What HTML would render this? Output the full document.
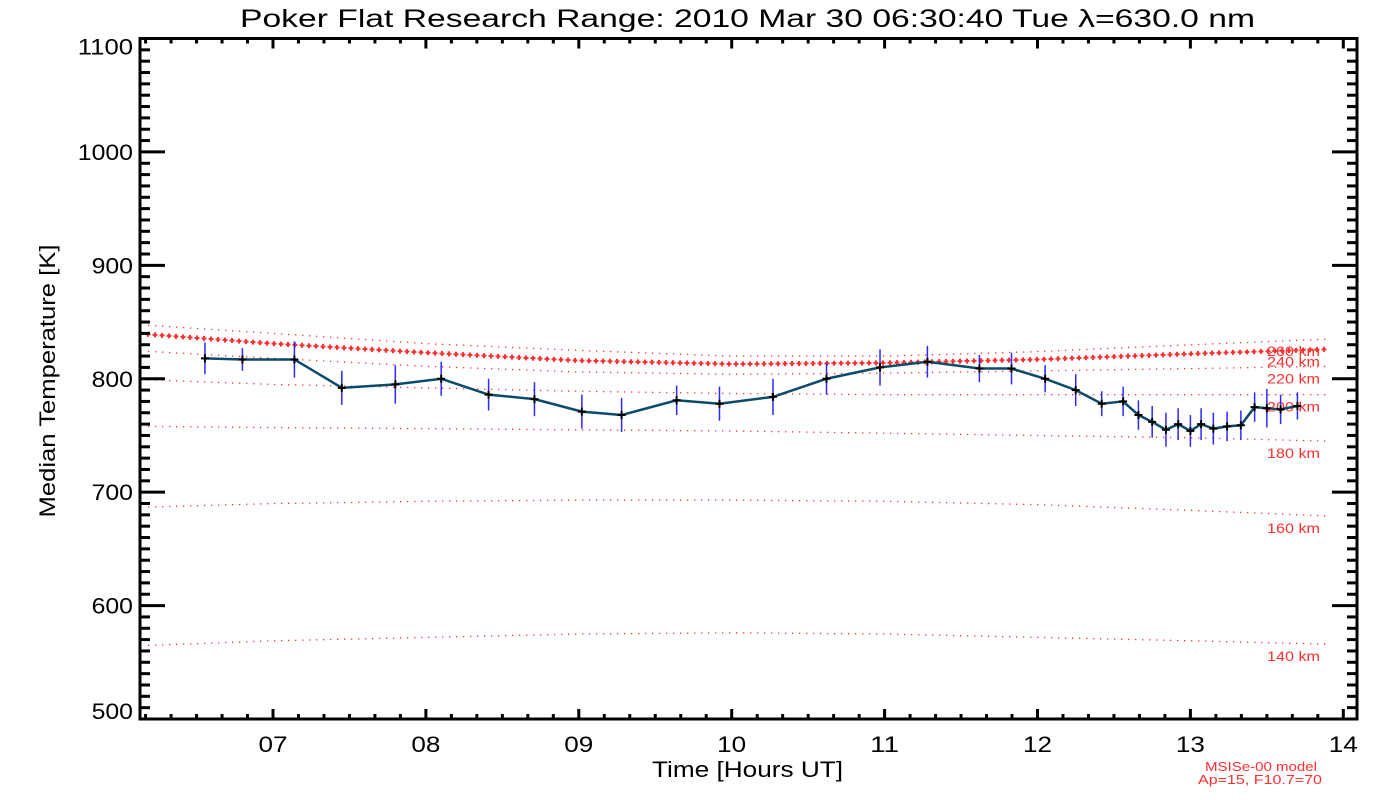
<!DOCTYPE html>
<html><head><meta charset="utf-8"><style>
html,body{margin:0;padding:0;background:#fff;width:1400px;height:800px;overflow:hidden}
svg{display:block}
text{font-family:"Liberation Sans",sans-serif}
</style></head><body>
<svg id="c" width="1400" height="800" xmlns="http://www.w3.org/2000/svg"></svg>
<script>
const obsHours=[6.555,6.80,7.14,7.45,7.80,8.10,8.41,8.71,9.02,9.28,9.64,9.92,10.27,10.62,10.97,11.28,11.62,11.83,12.05,12.25,12.42,12.56,12.66,12.75,12.84,12.92,13.00,13.07,13.15,13.24,13.33,13.42,13.50,13.59,13.70];
const obsTemps=[818,817,817,792,795,800,786,782,771,768,781,778,784,800,810,815,809,809,800,790,778,780,768,762,755,760,754,760,756,758,759,775,774,773,776];
const obsErrs=[14,10,16,15,17,15,14,15,15,15,13,15,16,14,16,14,12,14,12,14,11,13,13,14,15,14,14,14,14,13,13,13,17,13,12];
const modelHours=[6.2,7,8,9,10,11,12,13,13.9];
const msis260=[847,840,831,825,820,820,824,830,835];
const msis240=[839,831,823,816,813,814,817,822,826];
const msis220=[824,818,811,806,804,805,807,809,811];
const msis200=[799,795,792,789,787,786,786,786,786];
const msis180=[758,757,756,755,754,752,750,748,745];
const msis160=[687,690,692,693,693,692,689,684,679];
const msis140=[565,569,572,575,576,575,572,569,566];
const altLabels=['260 km','240 km','220 km','200 km','180 km','160 km','140 km'];
const xTickLabels=['07','08','09','10','11','12','13','14'];
const yTickLabels=[500,600,700,800,900,1000,1100];

const L=140,R=1357,T=38.5,B=719;
const xs=h=>273+(h-7)*152.9;
const ys=v=>B-(v-500)*(B-T)/600;
const svg=document.getElementById('c');
const NS='http://www.w3.org/2000/svg';
function mk(tag,attrs,parent){const e=document.createElementNS(NS,tag);for(const k in attrs)e.setAttribute(k,attrs[k]);(parent||svg).appendChild(e);return e;}
function interp(hs,vs,h){for(let i=0;i<hs.length-1;i++){if(h<=hs[i+1]||i==hs.length-2){const t=(h-hs[i])/(hs[i+1]-hs[i]);return vs[i]+t*(vs[i+1]-vs[i]);}}}

// title
let t=mk('text',{x:240,y:27,'font-size':25,fill:'#000',textLength:1015,lengthAdjust:'spacingAndGlyphs'});t.textContent='Poker Flat Research Range: 2010 Mar 30 06:30:40 Tue λ=630.0 nm';



// model curves
const curves=[msis260,msis240,msis220,msis200,msis180,msis160,msis140];
const gm=mk('g',{});


curves.forEach((c,ci)=>{
  const g=mk('g',{fill:'#ff3030'},gm);
  
  
  const bold=(ci===1);
  for(let px=L+8;px<1325;px+=7){
    const h=7+(px-273)/152.9;
    const y=ys(interp(modelHours,c,h));
    if(bold){mk('rect',{x:px-2.5,y:y-1,width:5,height:2},g);mk('rect',{x:px-1,y:y-2.5,width:2,height:5},g);}
    else mk('rect',{x:px,y:y-0.6,width:1.3,height:1.3},g);
  }
  const lab=mk('text',{x:1267,y:ys(c[c.length-1])+17,'font-size':14,fill:'#ff3030',textLength:53,lengthAdjust:'spacingAndGlyphs'});
  lab.textContent=altLabels[ci];
  
  
});

// observed line
let pts=obsHours.map((h,i)=>xs(h)+','+ys(obsTemps[i])).join(' ');
const pl=mk('polyline',{points:pts,fill:'none',stroke:'#0a4a6a','stroke-width':2.5});


obsHours.forEach((h,i)=>{
  const x=xs(h),y=ys(obsTemps[i]);
  const eb=mk('line',{x1:x,x2:x,y1:ys(obsTemps[i]+obsErrs[i]),y2:ys(obsTemps[i]-obsErrs[i]),stroke:'#2a2aff','stroke-width':1.5});
  
  
  const p=mk('path',{d:`M${x-4},${y}H${x+4}M${x},${y-4}V${y+4}`,stroke:'#000','stroke-width':2});
  
  
});

// axes frame
const fr=mk('rect',{x:L,y:T,width:R-L,height:B-T,fill:'none',stroke:'#000','stroke-width':3});


const tk=mk('g',{stroke:'#000','stroke-width':3});


for(let m=0;m*10<=480;m++){const h=6+m/6;const x=xs(h);if(x<L+2||x>R-2)continue;const len=(m%6===0)?10:5;
  mk('line',{x1:x,x2:x,y1:B,y2:B-len},tk);mk('line',{x1:x,x2:x,y1:T,y2:T+len},tk);}
for(let v=500;v<=1100;v+=10){const y=ys(v);const len=(v%100===0)?25:10;
  mk('line',{x1:L,x2:L+len,y1:y,y2:y},tk);mk('line',{x1:R,x2:R-len,y1:y,y2:y},tk);}
xTickLabels.forEach((s,i)=>{const e=mk('text',{x:xs(7+i),y:752,'text-anchor':'middle','font-size':22,textLength:29,lengthAdjust:'spacingAndGlyphs'});e.textContent=s;
  
  });
yTickLabels.forEach(v=>{let yy=ys(v)+8;if(v===1100)yy+=8;if(v===500)yy-=8;
  const w=String(v).length*13.8;
  const e=mk('text',{x:133-w,y:yy,'font-size':22,textLength:w,lengthAdjust:'spacingAndGlyphs'});e.textContent=v;
  
  });
let xt=mk('text',{x:652,y:777,'font-size':22,textLength:191,lengthAdjust:'spacingAndGlyphs'});xt.textContent='Time [Hours UT]';


let yt=mk('text',{x:0,y:0,'text-anchor':'middle','font-size':22,textLength:273,lengthAdjust:'spacingAndGlyphs',transform:'translate(55,381) rotate(-90)'});yt.textContent='Median Temperature [K]';


let n1=mk('text',{x:1205,y:771,'font-size':13,fill:'#ff3030',textLength:112,lengthAdjust:'spacingAndGlyphs'});n1.textContent='MSISe-00 model';


let n2=mk('text',{x:1198,y:784,'font-size':13,fill:'#ff3030',textLength:124,lengthAdjust:'spacingAndGlyphs'});n2.textContent='Ap=15, F10.7=70';


</script>
</body></html>
